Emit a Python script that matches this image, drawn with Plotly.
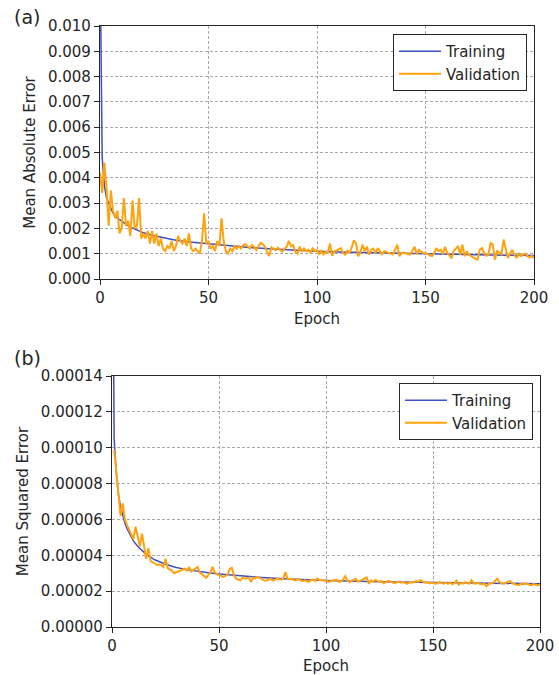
import plotly.graph_objects as go

# ---------------- (a) Mean Absolute Error ----------------
mae_train_epoch = [0, 1, 2, 3, 4, 5, 6, 7, 8, 9, 10, 12, 14, 16, 18, 20, 25, 30, 35, 40,
                   45, 50, 55, 60, 70, 80, 90, 100, 110, 120, 130, 140, 150, 160, 170,
                   180, 190, 200]
mae_train = [0.0130, 0.0048, 0.0037, 0.0032, 0.0030, 0.0028, 0.0026, 0.0025, 0.0024,
             0.00235, 0.0023, 0.00215, 0.00205, 0.00197, 0.0019, 0.00183, 0.00171,
             0.00161, 0.00153, 0.00147, 0.00143, 0.0014, 0.00136, 0.00131, 0.00124,
             0.00119, 0.00114, 0.0011, 0.00107, 0.00105, 0.00103, 0.00101, 0.0010,
             0.00098, 0.00097, 0.00095, 0.00094, 0.00093]

mae_val = [
    0.0042, 0.0034, 0.0046, 0.0036, 0.0021, 0.0035, 0.0027, 0.0024, 0.0027, 0.0018,
    0.0020, 0.0032, 0.0021, 0.0023, 0.0017, 0.0031, 0.0020, 0.0021, 0.0032, 0.0016,
    0.0018, 0.0016, 0.0019, 0.0014, 0.0019, 0.0014, 0.0018, 0.0013, 0.0016, 0.0012,
    0.0011, 0.0013, 0.0012, 0.0015, 0.0011, 0.0013, 0.0017, 0.0015, 0.0014, 0.0016,
    0.0013, 0.0018, 0.0012, 0.0011, 0.0012, 0.0011, 0.0010, 0.0015, 0.0026, 0.0014,
    0.0015, 0.0012, 0.0013, 0.0011, 0.0015, 0.0013, 0.0024, 0.0015, 0.0011, 0.0010,
    0.0012, 0.0011, 0.0013, 0.0012, 0.0013, 0.0012, 0.00134, 0.00138, 0.00128, 0.00121,
    0.00134, 0.00128, 0.00114, 0.00128, 0.00143, 0.00138, 0.00128, 0.00108, 0.00091, 0.00125,
    0.00121, 0.00114, 0.00124, 0.00117, 0.00108, 0.00121, 0.00126, 0.00151, 0.00130, 0.00134,
    0.00108, 0.00100, 0.00128, 0.00108, 0.00121, 0.00110, 0.00116, 0.00104, 0.00121, 0.00110,
    0.00114, 0.00097, 0.00114, 0.00097, 0.00108, 0.00104, 0.00140, 0.00092, 0.00110, 0.00112,
    0.00117, 0.00122, 0.00103, 0.00096, 0.00112, 0.00105, 0.00125, 0.00153, 0.00141, 0.00090,
    0.00105, 0.00136, 0.00110, 0.00128, 0.00096, 0.00115, 0.00120, 0.00102, 0.00122, 0.00108,
    0.00098, 0.00110, 0.00106, 0.00104, 0.00101, 0.00097, 0.00115, 0.00136, 0.00090, 0.00102,
    0.00104, 0.00101, 0.00098, 0.00097, 0.00114, 0.00127, 0.00096, 0.00115, 0.00108, 0.00102,
    0.00103, 0.00098, 0.00096, 0.00090, 0.00102, 0.00122, 0.00110, 0.00116, 0.00098, 0.00127,
    0.00103, 0.00092, 0.00084, 0.00110, 0.00118, 0.00130, 0.00096, 0.00136, 0.00090, 0.00109,
    0.00096, 0.00090, 0.00084, 0.00080, 0.00077, 0.00116, 0.00122, 0.00103, 0.00092, 0.00096,
    0.00142, 0.00136, 0.00077, 0.00110, 0.00104, 0.00098, 0.00156, 0.00125, 0.00083, 0.00103,
    0.00115, 0.00095, 0.00083, 0.00102, 0.00090, 0.00096, 0.00100, 0.00090, 0.00085, 0.00092,
    0.00083,
]
mae_val_epoch = list(range(len(mae_val)))

# ---------------- (b) Mean Squared Error ----------------
mse_train_epoch = [0, 1, 2, 3, 4, 5, 6, 7, 8, 9, 10, 12, 14, 16, 18, 20, 25, 30, 35, 40,
                   45, 50, 60, 70, 80, 90, 100, 125, 150, 175, 200]
mse_train = [3.0e-4, 1.05e-4, 8.6e-5, 7.4e-5, 6.7e-5, 6.2e-5, 5.8e-5, 5.5e-5, 5.25e-5,
             5.0e-5, 4.8e-5, 4.5e-5, 4.25e-5, 4.05e-5, 3.9e-5, 3.75e-5, 3.5e-5, 3.32e-5,
             3.2e-5, 3.1e-5, 3.02e-5, 2.95e-5, 2.84e-5, 2.76e-5, 2.69e-5, 2.64e-5, 2.6e-5,
             2.53e-5, 2.49e-5, 2.45e-5, 2.41e-5]

mse_val = [
    9.9e-5, 8.6e-5, 7.4e-5, 6.2e-5, 6.9e-5, 6.0e-5, 5.7e-5, 5.4e-5, 5.2e-5, 4.9e-5,
    5.6e-5, 5.0e-5, 4.5e-5, 5.2e-5, 4.5e-5, 3.8e-5, 4.4e-5, 3.7e-5, 3.6e-5, 3.55e-5,
    3.45e-5, 3.5e-5, 3.45e-5, 3.35e-5, 3.8e-5, 3.3e-5, 3.2e-5, 3.15e-5, 3.0e-5, 3.05e-5,
    3.1e-5, 3.15e-5, 3.2e-5, 3.25e-5, 3.15e-5, 3.35e-5, 3.1e-5, 3.2e-5, 3.25e-5, 3.35e-5,
    3.05e-5, 2.95e-5, 2.85e-5, 2.75e-5, 2.9e-5, 3.05e-5, 3.35e-5, 3.05e-5, 2.95e-5, 2.9e-5,
    2.85e-5, 2.8e-5, 2.85e-5, 2.9e-5, 3.25e-5, 3.3e-5, 2.9e-5, 2.7e-5, 2.65e-5, 2.6e-5,
    2.75e-5, 2.7e-5, 2.72e-5, 2.75e-5, 2.5e-5, 2.75e-5, 2.72e-5, 2.78e-5, 2.74e-5, 2.65e-5,
    2.6e-5, 2.58e-5, 2.65e-5, 2.7e-5, 2.6e-5, 2.62e-5, 2.7e-5, 2.65e-5, 2.64e-5, 2.70e-5,
    3.07e-5, 2.70e-5, 2.66e-5, 2.70e-5, 2.62e-5, 2.60e-5, 2.68e-5, 2.62e-5, 2.56e-5, 2.60e-5,
    2.58e-5, 2.52e-5, 2.62e-5, 2.64e-5, 2.57e-5, 2.70e-5, 2.62e-5, 2.60e-5, 2.62e-5, 2.60e-5,
    2.52e-5, 2.56e-5, 2.60e-5, 2.62e-5, 2.64e-5, 2.52e-5, 2.55e-5, 2.65e-5, 2.83e-5, 2.60e-5,
    2.50e-5, 2.58e-5, 2.62e-5, 2.68e-5, 2.52e-5, 2.58e-5, 2.62e-5, 2.66e-5, 2.76e-5, 2.42e-5,
    2.60e-5, 2.52e-5, 2.62e-5, 2.58e-5, 2.52e-5, 2.56e-5, 2.44e-5, 2.52e-5, 2.57e-5, 2.54e-5,
    2.50e-5, 2.44e-5, 2.50e-5, 2.52e-5, 2.47e-5, 2.51e-5, 2.45e-5, 2.42e-5, 2.50e-5, 2.51e-5,
    2.48e-5, 2.56e-5, 2.52e-5, 2.61e-5, 2.55e-5, 2.48e-5, 2.50e-5, 2.44e-5, 2.46e-5, 2.47e-5,
    2.42e-5, 2.44e-5, 2.51e-5, 2.48e-5, 2.42e-5, 2.46e-5, 2.40e-5, 2.48e-5, 2.38e-5, 2.46e-5,
    2.58e-5, 2.36e-5, 2.46e-5, 2.42e-5, 2.50e-5, 2.44e-5, 2.42e-5, 2.61e-5, 2.44e-5, 2.42e-5,
    2.46e-5, 2.40e-5, 2.38e-5, 2.42e-5, 2.27e-5, 2.40e-5, 2.42e-5, 2.46e-5, 2.56e-5, 2.70e-5,
    2.51e-5, 2.44e-5, 2.42e-5, 2.46e-5, 2.51e-5, 2.56e-5, 2.44e-5, 2.42e-5, 2.36e-5, 2.33e-5,
    2.42e-5, 2.38e-5, 2.40e-5, 2.42e-5, 2.36e-5, 2.33e-5, 2.40e-5, 2.38e-5, 2.33e-5, 2.36e-5,
]
mse_val_epoch = list(range(1, len(mse_val) + 1))

x_ticks = [0, 50, 100, 150, 200]
mae_ticks = [0.000, 0.001, 0.002, 0.003, 0.004, 0.005, 0.006, 0.007, 0.008, 0.009, 0.010]
mse_ticks = [0.0, 0.00002, 0.00004, 0.00006, 0.00008, 0.00010, 0.00012, 0.00014]

BLUE = "#3f4fc4"
ORANGE = "#ffa20e"
FONT = "DejaVu Sans"
W, H = 559, 675

fig = go.Figure()
fig.add_trace(go.Scatter(x=mae_train_epoch, y=mae_train, mode="lines", name="Training",
                         line=dict(color=BLUE, width=1.5), xaxis="x", yaxis="y", legend="legend"))
fig.add_trace(go.Scatter(x=mae_val_epoch, y=mae_val, mode="lines", name="Validation",
                         line=dict(color=ORANGE, width=2), xaxis="x", yaxis="y", legend="legend"))
fig.add_trace(go.Scatter(x=mse_train_epoch, y=mse_train, mode="lines", name="Training",
                         line=dict(color=BLUE, width=1.5), xaxis="x2", yaxis="y2", legend="legend2"))
fig.add_trace(go.Scatter(x=mse_val_epoch, y=mse_val, mode="lines", name="Validation",
                         line=dict(color=ORANGE, width=2), xaxis="x2", yaxis="y2", legend="legend2"))

common = dict(showline=True, mirror=True, linecolor="#262626", linewidth=1.2,
              ticks="outside", ticklen=5, tickwidth=1, tickcolor="#262626",
              showgrid=True, gridcolor="#a9a9a9", gridwidth=1, griddash="3px,2px",
              zeroline=False, automargin=False,
              tickfont=dict(family=FONT, size=15, color="#262626"))

legend_style = dict(font=dict(family=FONT, size=15, color="#262626"), bgcolor="white",
                    bordercolor="#262626", borderwidth=1, xanchor="right", yanchor="top",
                    tracegroupgap=0, itemwidth=42)

fig.update_layout(
    width=W, height=H, autosize=False,
    margin=dict(l=0, r=0, t=0, b=0),
    paper_bgcolor="white", plot_bgcolor="white",
    font=dict(family=FONT, size=15, color="#262626"),
    xaxis=dict(domain=[100 / W, 534 / W], anchor="y", range=[0, 200], tickvals=x_ticks,
               title=dict(text="Epoch", standoff=7, font=dict(size=15)), **common),
    yaxis=dict(domain=[1 - 279 / H, 1 - 26 / H], anchor="x", range=[0, 0.010],
               tickvals=mae_ticks, tickformat=".3f",
               title=dict(text="Mean Absolute Error", standoff=8, font=dict(size=15)), **common),
    xaxis2=dict(domain=[112 / W, 540 / W], anchor="y2", range=[0, 200], tickvals=x_ticks,
                title=dict(text="Epoch", standoff=6, font=dict(size=15)), **common),
    yaxis2=dict(domain=[1 - 627 / H, 1 - 376 / H], anchor="x2", range=[0, 0.00014],
                tickvals=mse_ticks, tickformat=".5f",
                title=dict(text="Mean Squared Error", standoff=8, font=dict(size=15)), **common),
    legend=dict(x=527 / W, y=1 - 34 / H, **legend_style),
    legend2=dict(x=533 / W, y=1 - 383 / H, **legend_style),
    annotations=[
        dict(text="(a)", x=27 / W, y=1 - 17 / H, xref="paper", yref="paper",
             xanchor="center", yanchor="middle",
             showarrow=False, font=dict(family=FONT, size=19, color="#262626")),
        dict(text="(b)", x=27 / W, y=1 - 358 / H, xref="paper", yref="paper",
             xanchor="center", yanchor="middle",
             showarrow=False, font=dict(family=FONT, size=19, color="#262626")),
    ],
)

fig.write_html("out.html", config={"displayModeBar": False},
               post_script="document.body.style.margin='0px';document.body.style.padding='0px';")
